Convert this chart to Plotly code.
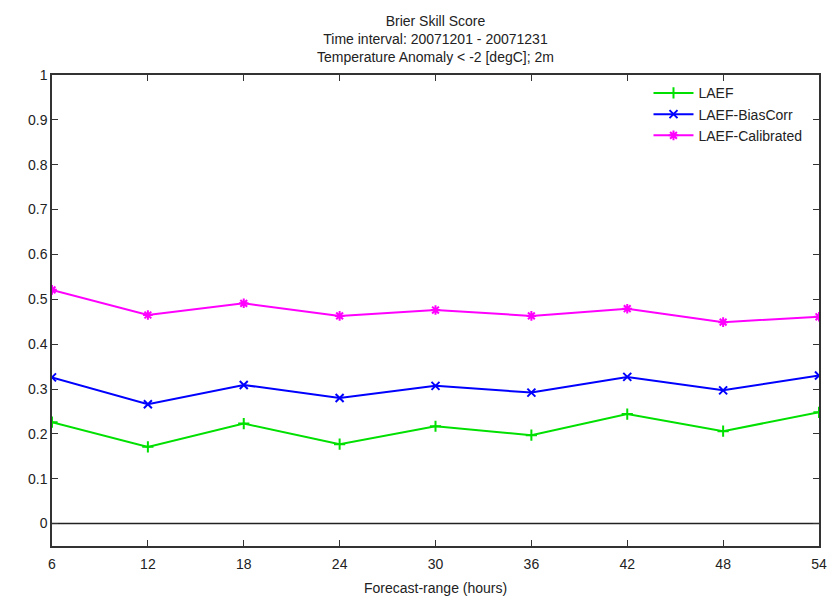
"""Brier Skill Score: LAEF / BiasCorr / Calibrated, gnuplot-like look."""

import plotly.graph_objects as go

FONT = "Liberation Sans, Arial, sans-serif"

forecast_hours = [6, 12, 18, 24, 30, 36, 42, 48, 54]
laef = [0.226, 0.171, 0.223, 0.177, 0.217, 0.197, 0.244, 0.206, 0.248]
laef_biascorr = [0.326, 0.266, 0.309, 0.280, 0.307, 0.292, 0.327, 0.297, 0.330]
laef_calibrated = [0.521, 0.465, 0.491, 0.463, 0.476, 0.463, 0.479, 0.449, 0.461]

y_ticks = [0, 0.1, 0.2, 0.3, 0.4, 0.5, 0.6, 0.7, 0.8, 0.9, 1]
y_tick_text = ["0", "0.1", "0.2", "0.3", "0.4", "0.5", "0.6", "0.7", "0.8", "0.9", "1"]

series = [
    ("LAEF", laef, "#00e000", "cross-thin"),
    ("LAEF-BiasCorr", laef_biascorr, "#0000ff", "x-thin"),
    ("LAEF-Calibrated", laef_calibrated, "#ff00ff", "asterisk"),
]

title = (
    "Brier Skill Score<br>"
    "Time interval: 20071201 - 20071231<br>"
    "Temperature Anomaly &lt; -2 [degC]; 2m"
)
x_title = "Forecast-range (hours)"

fig = go.Figure()
for name, vals, color, symbol in series:
    fig.add_trace(go.Scatter(
        x=forecast_hours,
        y=vals,
        mode="lines+markers",
        name=name,
        line={"color": color, "width": 2},
        marker={"symbol": symbol, "size": 8, "color": color,
                "line": {"color": color, "width": 2}},
    ))

# нулевая линия как в gnuplot
fig.add_hline(y=0, line={"color": "#222222", "width": 1.5}, layer="below")

# заголовок аннотацией — многострочный title плотли режет сверху
fig.add_annotation(
    text=title, xref="paper", yref="paper", x=0.5, y=1,
    xanchor="center", yanchor="bottom", yshift=8, showarrow=False,
    align="center", font={"family": FONT, "size": 14, "color": "#222222"},
)
# подпись оси X тоже аннотацией, чтобы automargin не сжимал график
fig.add_annotation(
    text=x_title, xref="paper", yref="paper", x=0.5, y=0,
    xanchor="center", yanchor="top", yshift=-32, showarrow=False,
    font={"family": FONT, "size": 14, "color": "#222222"},
)

axis_common = dict(
    showgrid=False,
    zeroline=False,
    showline=True,
    linecolor="#333333",
    linewidth=1.5,
    mirror="ticks",
    ticks="inside",
    ticklen=6,
    tickcolor="#333333",
    automargin=False,
    tickfont={"family": FONT, "size": 14, "color": "#222222"},
)

# страница сдвинута на 8px (margin у body), поэтому поля меньше
fig.update_layout(
    width=832,
    height=588,
    paper_bgcolor="white",
    plot_bgcolor="white",
    margin={"l": 44, "r": 21, "t": 67, "b": 50},
    font={"family": FONT, "size": 14, "color": "#222222"},
    xaxis=dict(axis_common, range=[6, 54], tickvals=forecast_hours,
               ticklabelstandoff=4),
    yaxis=dict(axis_common, range=[-0.05, 1], tickvals=y_ticks,
               ticktext=y_tick_text),
    showlegend=True,
    legend={"x": 0.985, "y": 0.995, "xanchor": "right", "yanchor": "top",
            "bgcolor": "rgba(0,0,0,0)", "font": {"family": FONT, "size": 14},
            "tracegroupgap": 0, "itemwidth": 40},
)

fig.write_html("out.html")
